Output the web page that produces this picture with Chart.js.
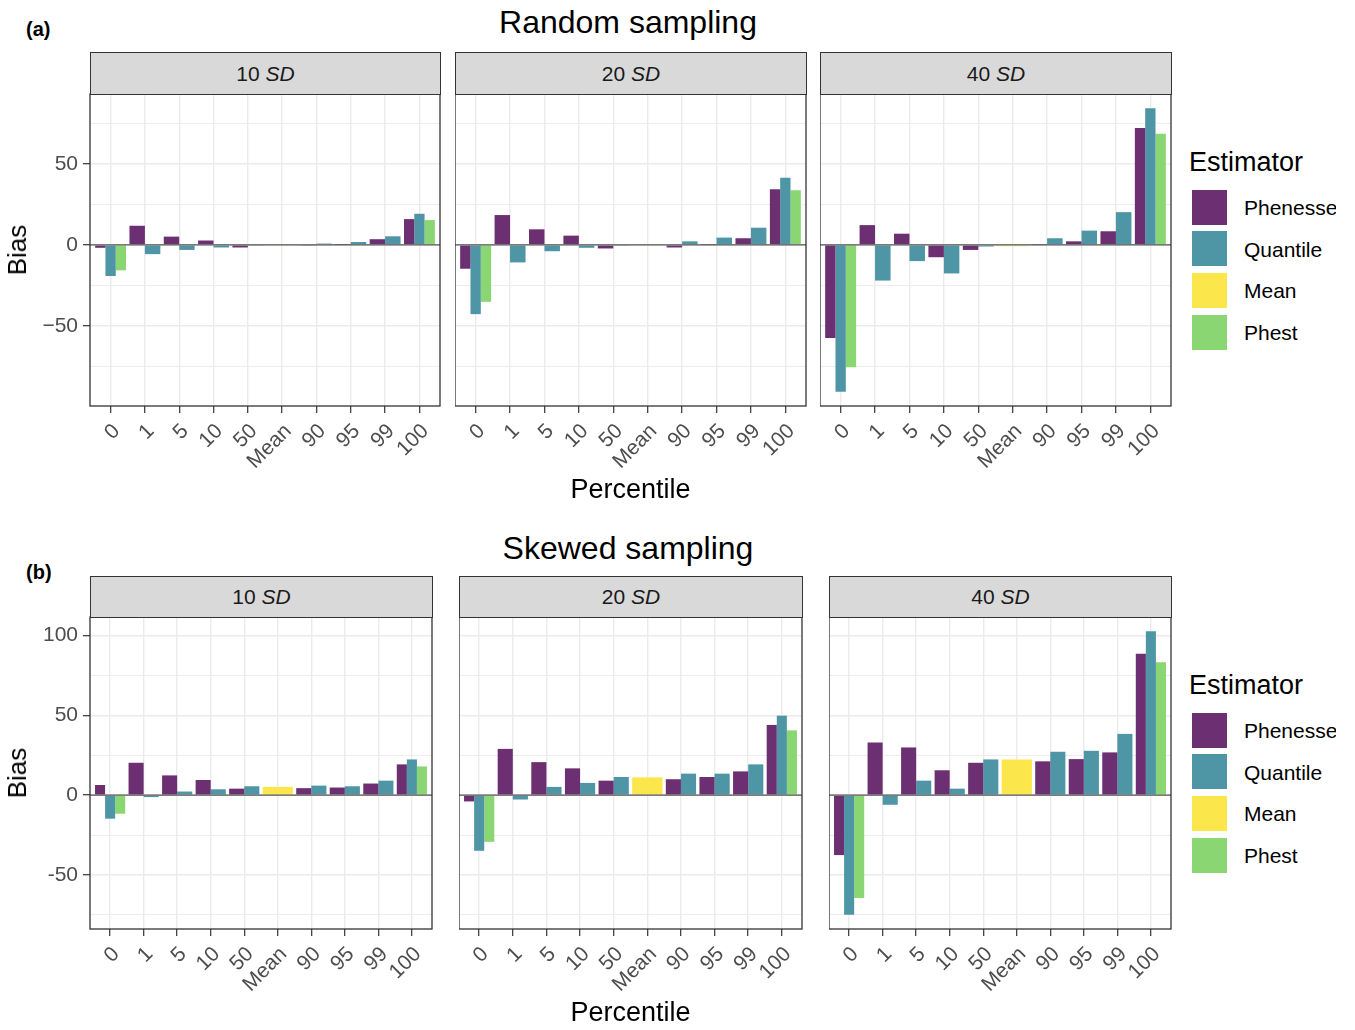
<!DOCTYPE html>
<html lang="en">
<head>
<meta charset="utf-8">
<title>Bias of phenology estimators</title>
<script src="https://cdn.jsdelivr.net/npm/chart.js@4.4.1/dist/chart.umd.min.js"></script>
<style>
  html, body { margin: 0; background: #fff; }
  #fig { position: relative; width: 1355px; height: 1030px; overflow: hidden; font-family: 'Liberation Sans', Arial, Helvetica, sans-serif; color: #000; }
  #fig canvas { position: absolute; }
  .txt { position: absolute; white-space: nowrap; }
  .strip { position: absolute; box-sizing: border-box; background: #d9d9d9; border: 1.3px solid #333; color: #1a1a1a; text-align: center; font-size: 21px; }
  .key { position: absolute; width: 35px; height: 35px; }
</style>
</head>
<body>
<div id="fig"></div>
<script>
// --- Data ---
const percentiles = ['0', '1', '5', '10', '50', 'Mean', '90', '95', '99', '100'];
const estimators = ['Phenesse', 'Quantile', 'Mean', 'Phest'];
const estimatorColors = ['#6b2f72', '#4e96a5', '#fbe64c', '#8ad672'];
const sdLevels = ['10', '20', '40'];

// one inner array per SD level, null where the estimator is not used
const randomPhenesse = [
    [-1.8, 11.8, 5.1, 2.7, -1.6, null, -0.3, 0.1, 3.5, 15.9],
    [-14.7, 18.4, 9.6, 5.7, -2.2, null, -1.6, 0.2, 4.1, 34.3],
    [-57.4, 12.2, 6.9, -7.6, -3.1, null, 0.2, 2.2, 8.4, 72.1]
];
const randomQuantile = [
    [-19.2, -5.7, -3.1, -1.6, -0.3, null, 0.8, 1.8, 5.3, 19.2],
    [-42.7, -10.8, -3.9, -1.8, -0.3, null, 2.2, 4.5, 10.6, 41.4],
    [-90.6, -22.0, -10.0, -17.6, -1.0, null, 4.1, 8.8, 20.2, 84.3]
];
const randomMean = [
    [null, null, null, null, null, 0.3, null, null, null, null],
    [null, null, null, null, null, 0.2, null, null, null, null],
    [null, null, null, null, null, -0.8, null, null, null, null]
];
const randomPhest = [
    [-15.7, null, null, null, null, null, null, null, null, 15.3],
    [-35.1, null, null, null, null, null, null, null, null, 33.7],
    [-75.5, null, null, null, null, null, null, null, null, 68.6]
];

const skewPhenesse = [
    [6.4, 20.3, 12.4, 9.5, 4.1, null, 4.4, 4.8, 7.3, 19.3],
    [-3.9, 29.0, 20.7, 16.8, 9.1, null, 10.0, 11.4, 14.9, 44.0],
    [-37.5, 33.0, 29.9, 15.6, 20.3, null, 21.2, 22.6, 26.8, 88.6]
];
const skewQuantile = [
    [-14.7, -1.2, 2.3, 3.7, 5.6, null, 6.0, 5.6, 9.1, 22.4],
    [-34.8, -2.7, 5.2, 7.7, 11.4, null, 13.5, 13.5, 19.3, 49.8],
    [-74.9, -6.0, 9.1, 4.1, 22.4, null, 27.2, 27.8, 38.4, 102.7]
];
const skewMean = [
    [null, null, null, null, null, 5.2, null, null, null, null],
    [null, null, null, null, null, 11.2, null, null, null, null],
    [null, null, null, null, null, 22.4, null, null, null, null]
];
const skewPhest = [
    [-11.6, null, null, null, null, null, null, null, null, 18.0],
    [-29.2, null, null, null, null, null, null, null, null, 40.6],
    [-64.3, null, null, null, null, null, null, null, null, 83.2]
];

// --- Layout ---
const DODGE = 0.9;        // total width of a dodged group (ggplot default)
const X_LABEL_H = 80;     // space under a panel for the rotated labels
const Y_AXIS_W = 62;
const FONT = "'Liberation Sans', Arial, Helvetica, sans-serif";

const rows = [
    {
        title: 'Random sampling', tag: '(a)', minus: '\u2212',
        series: [randomPhenesse, randomQuantile, randomMean, randomPhest],
        top: 94, bottom: 406, lefts: [90, 455, 820], rights: [440, 806, 1171],
        stripTop: 52, titleBase: 33, tagBase: 36, xTitleBase: 499, legendTop: 0
    },
    {
        title: 'Skewed sampling', tag: '(b)', minus: '-',
        series: [skewPhenesse, skewQuantile, skewMean, skewPhest],
        top: 617, bottom: 929, lefts: [90, 459, 829], rights: [432, 802, 1171],
        stripTop: 576, titleBase: 559, tagBase: 579, xTitleBase: 1022, legendTop: 523
    }
];

Chart.defaults.font.family = FONT;
const fig = document.getElementById('fig');

const zeroLine = {
    id: 'zeroLine',
    afterDatasetsDraw(chart) {
        const { ctx, chartArea, scales } = chart;
        const y = scales.y.getPixelForValue(0);
        ctx.save();
        ctx.strokeStyle = '#555';
        ctx.lineWidth = 1.3;
        ctx.beginPath();
        ctx.moveTo(chartArea.left, y);
        ctx.lineTo(chartArea.right, y);
        ctx.stroke();
        ctx.restore();
    }
};

const panelBorder = {
    id: 'panelBorder',
    afterDraw(chart) {
        const { ctx, chartArea: a } = chart;
        ctx.save();
        ctx.strokeStyle = '#333';
        ctx.lineWidth = 1.3;
        ctx.strokeRect(a.left, a.top, a.right - a.left, a.bottom - a.top);
        ctx.restore();
    }
};

function addText(html, x, base, size, extra) {
    const d = document.createElement('div');
    d.className = 'txt';
    d.innerHTML = html;
    d.style.fontSize = size + 'px';
    d.style.lineHeight = size + 'px';
    d.style.left = x + 'px';
    d.style.top = (base - 0.8465 * size) + 'px';
    Object.assign(d.style, extra || {});
    fig.appendChild(d);
    return d;
}

function rowLimits(row) {
    const vals = row.series.flat(2).filter(v => v !== null);
    const lo = Math.min(...vals), hi = Math.max(...vals);
    const pad = (hi - lo) * 0.05;
    return [lo - pad, hi + pad];
}

function buildDatasets(series) {
    const groups = {};
    const allX = [];
    percentiles.forEach((lab, j) => {
        const present = [];
        series.forEach((vals, e) => { if (vals[j] !== null) present.push(e); });
        const n = present.length;
        present.forEach((e, k) => {
            const x = (j + 1) - DODGE / 2 + (k + 0.5) * DODGE / n;
            const key = e + '_' + n;
            if (!groups[key]) groups[key] = { e, n, data: [] };
            groups[key].data.push({ x, y: series[e][j] });
            allX.push(x);
        });
    });
    allX.sort((a, b) => a - b);
    let minGap = 1;
    for (let i = 1; i < allX.length; i++) {
        const g = allX[i] - allX[i - 1];
        if (g > 1e-9) minGap = Math.min(minGap, g);
    }
    // bar width = smallest gap * categoryPercentage, so scale it to DODGE / n
    return Object.values(groups).map(g => ({
        label: estimators[g.e],
        data: g.data,
        backgroundColor: estimatorColors[g.e],
        borderWidth: 0,
        grouped: false,
        barPercentage: 1,
        categoryPercentage: (DODGE / g.n) / minGap
    }));
}

function buildPanel(row, p, yMin, yMax) {
    const L = row.lefts[p], R = row.rights[p];
    const yw = p === 0 ? Y_AXIS_W : 0;
    const w = R - L + yw + 2;
    const h = row.bottom - row.top + 2 + X_LABEL_H;
    const canvas = document.createElement('canvas');
    canvas.width = w; canvas.height = h;
    canvas.style.left = (L - yw) + 'px';
    canvas.style.top = (row.top - 2) + 'px';
    canvas.style.width = w + 'px';
    canvas.style.height = h + 'px';
    fig.appendChild(canvas);

    const series = row.series.map(s => s[p]);
    const isMajor = c => c.tick && Math.abs(c.tick.value % 50) < 1e-9;

    new Chart(canvas.getContext('2d'), {
        type: 'bar',
        data: { datasets: buildDatasets(series) },
        options: {
            responsive: false,
            animation: false,
            events: [],
            layout: { padding: { top: 2, right: 2, left: 0, bottom: 0 } },
            plugins: { legend: { display: false }, tooltip: { enabled: false } },
            scales: {
                x: {
                    type: 'linear',
                    min: 0.4,
                    max: percentiles.length + 0.6,
                    offset: false,
                    grid: { offset: false, color: '#ebebeb', lineWidth: 1.4, tickColor: '#333', tickLength: 7, tickWidth: 1.2 },
                    border: { display: false },
                    ticks: {
                        stepSize: 1, includeBounds: false, autoSkip: false,
                        maxRotation: 45, minRotation: 45,
                        color: '#4d4d4d', font: { size: 21 }, padding: 6, labelOffset: 6,
                        callback: v => percentiles[Math.round(v) - 1]
                    },
                    afterFit: s => { s.height = X_LABEL_H; s.paddingLeft = 0; s.paddingRight = 0; }
                },
                y: {
                    type: 'linear',
                    min: yMin,
                    max: yMax,
                    grid: {
                        color: '#ebebeb',
                        lineWidth: c => isMajor(c) ? 1.4 : 0.9,
                        tickColor: c => isMajor(c) ? '#333' : 'rgba(0,0,0,0)',
                        tickLength: 7, tickWidth: 1.2,
                        drawTicks: p === 0
                    },
                    border: { display: false },
                    ticks: {
                        display: p === 0, stepSize: 25, includeBounds: false, autoSkip: false,
                        color: '#4d4d4d', font: { size: 21 }, padding: 5,
                        callback: v => Math.abs(v % 50) < 1e-9 ? (v < 0 ? row.minus + Math.abs(v) : String(v)) : ''
                    },
                    afterFit: s => { s.width = yw; s.paddingTop = 0; s.paddingBottom = 0; }
                }
            }
        },
        plugins: [zeroLine, panelBorder]
    });

    // facet strip
    const strip = document.createElement('div');
    strip.className = 'strip';
    strip.style.left = L + 'px';
    strip.style.top = row.stripTop + 'px';
    strip.style.width = (R - L + 1) + 'px';
    strip.style.height = (row.top - row.stripTop + 1) + 'px';
    strip.style.lineHeight = (row.top - row.stripTop - 1) + 'px';
    strip.innerHTML = sdLevels[p] + ' <i>SD</i>';
    fig.appendChild(strip);
}

function buildLegend(offset) {
    addText('Estimator', 1189, 171.7 + offset, 27);
    estimators.forEach((name, i) => {
        const top = 189.5 + offset + i * 41.8;
        const key = document.createElement('div');
        key.className = 'key';
        key.style.left = '1192px';
        key.style.top = top + 'px';
        key.style.background = estimatorColors[i];
        fig.appendChild(key);
        addText(name, 1244, top + 17.5 + 7.5, 21);
    });
}

rows.forEach(row => {
    const [yMin, yMax] = rowLimits(row);
    [0, 1, 2].forEach(p => buildPanel(row, p, yMin, yMax));

    const mid = (row.lefts[0] + row.rights[2]) / 2;
    addText(row.title, 628, row.titleBase, 32, { transform: 'translateX(-50%)' });
    addText(row.tag, 26, row.tagBase, 20, { fontWeight: 'bold' });
    addText('Percentile', mid, row.xTitleBase, 27, { transform: 'translateX(-50%)' });

    const bias = addText('Bias', 16.5, 0, 26, { transform: 'translate(-50%, -50%) rotate(-90deg)' });
    bias.style.top = ((row.top + row.bottom) / 2) + 'px';

    buildLegend(row.legendTop);
});

// the legend labels are cut at the right edge in the source figure
const clip = document.createElement('div');
clip.style.cssText = 'position:absolute;left:1336px;top:0;width:19px;height:1030px;background:#fff;';
fig.appendChild(clip);
</script>
</body>
</html>
